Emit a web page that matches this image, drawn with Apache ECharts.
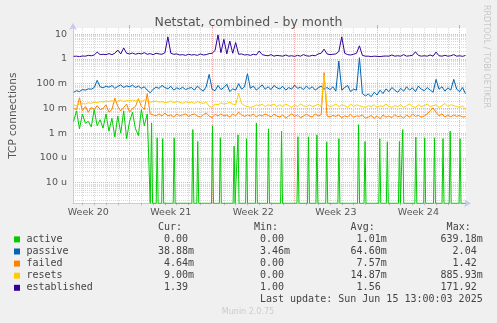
<!DOCTYPE html>
<html>
<head>
<meta charset="utf-8">
<script src="https://cdn.jsdelivr.net/npm/echarts@6/dist/echarts.min.js"></script>
<style>
html,body{margin:0;padding:0;background:#f0f0f0;}
#chart{width:497px;height:323px;}
</style>
</head>
<body>
<div id="chart"></div>
<script>
// ---- Data (time axis in days since Sun 2025-05-11 00:00) ----
var sampleStartDay = 2.25;   // first 6-hour sample
var sampleStepDay = 0.25;    // 6 hours
var axisStartDay = 2.2;
var axisEndDay = 35.54;      // Sun Jun 15 13:00

var weekCenters = [3.5, 10.5, 17.5, 24.5, 31.5];
var weekLabels = ['Week 20', 'Week 21', 'Week 22', 'Week 23', 'Week 24'];
var weekBoundaries = [7, 14, 21, 28, 35];

var yTickValues = [1e-5, 1e-4, 1e-3, 1e-2, 1e-1, 1, 10];
var yTickLabels = ['10 u', '100 u', '1 m', '10 m', '100 m', '1', '10'];

// values in milli-units unless stated
var activeEarly = [3, 8, 1.5, 6, 2.5, 3, 1.8, 9, 2, 3.5,
  1.6, 6, 1.2, 4, 0.7, 5, 1, 8, 0.6, 3,
  7, 1.5, 0.8, 9, 2, 6];
var activeSpikeDays = [8.867, 9.342, 9.808, 10.783, 12.367, 12.783, 14.033, 14.7, 15.867, 16.2,
  16.925, 17.758, 18.783, 19.892, 21.283, 22.175, 22.892, 23.725, 24.758, 26.425,
  26.975, 28.225, 28.867, 29.892, 30.175, 31.283, 32.033, 32.867, 33.592, 34.2, 35.033];
var activeSpikeValues = [2.6, 0.65, 0.6, 0.65, 1.4, 0.46, 2.0, 0.65, 0.3, 0.85,
  0.6, 2.6, 1.5, 1.2, 0.72, 0.71, 0.85, 0.45, 0.6, 2.2,
  0.46, 0.6, 0.45, 0.46, 1.4, 0.7, 0.65, 0.65, 0.6, 1.2, 0.6];

var passive = [45,52,48,58,55,62,60,70,137,75,
  68,80,72,85,65,78,90,70,82,75,
  88,70,80,65,75,55,43,60,72,65,
  85,70,62,78,55,68,60,72,58,65,
  70,55,80,62,50,75,238,60,52,85,
  58,70,95,48,62,55,100,60,75,254,
  65,80,55,70,90,60,75,58,85,68,
  62,78,55,70,60,88,65,72,58,80,
  62,75,55,68,80,60,70,58,75,50,
  830,55,70,85,48,60,55,1130,40,32,
  38,30,45,35,55,40,62,48,70,55,
  45,65,50,75,55,68,48,80,60,52,
  70,55,45,150,60,75,50,68,55,150,
  60,48,70,38.88];

var failed = [10,9,27,8,12,7,11,9,13,9,
  10,14,7,9,26,12,8,11,15,7,
  10,12,25,12,9,40,6,5.5,5,6,
  5,6.5,5,5.5,4.5,6,5,5.5,6,4.8,
  5.5,6,5,4.5,5.5,6.5,5,4.2,5.8,5,
  6,5,5.5,4.5,6,5,7,5.5,4.8,5.5,
  5,6,4.5,5.5,5,6,5.2,4.6,5.8,5,
  4.5,5.5,4,5,6,4.8,5.5,4.2,5,5.8,
  5,4.5,6,5,5.5,280,5,4.5,5.2,4.8,
  5.5,4.2,5,4.6,5.8,4.4,5,4.8,5.5,4,
  4.5,5.2,4,5,3.8,5.5,4.4,5,4.2,5.6,
  4.6,5,4,5.5,4.4,6,4.8,5.2,4.4,5,
  6,8,10.5,7,5,6,4.5,5.4,4.6,5.5,
  4.8,5.2,4.5,4.64];

var resets = [14,13,15,16,15,17,16,18,17,19,
  18,20,19,21,18,20,22,19,21,20,
  22,20,21,19,22,20,18,19,20,18,
  19,17,18,20,17,19,18,16,19,17,
  18,16,19,17,16,18,12,11,15,14,
  17,15,16,18,15,14,40,16,13,12,
  11,12,14,13,15,12,14,13,15,12,
  14,12,15,13,11,14,12,15,13,12,
  14,12,13,15,12,220,14,12,13,15,
  12,14,13,11,15,12,14,13,12,11,
  13,12,14,11,13,12,15,12,11,13,
  12,14,11,13,15,12,11,14,12,13,
  15,12,13,14,11,13,16,12,14,13,
  12,11,13,9];

// established in units
var established = [1.28,1.3,1.25,1.32,1.3,1.4,1.35,1.45,1.9,1.5,
  1.55,1.5,1.65,1.5,1.7,2.3,1.6,2.8,1.7,1.6,
  1.75,1.55,1.7,1.6,1.8,1.55,1.65,1.5,1.7,1.6,
  1.55,1.8,7.8,1.7,1.55,1.6,1.45,1.5,1.4,1.55,
  1.45,1.5,1.4,1.6,1.45,1.5,1.65,1.7,2.2,9.4,
  1.8,6.2,1.6,5.3,1.7,4.6,1.55,1.6,1.45,1.5,
  1.4,1.55,1.45,2.1,1.5,1.4,1.35,1.5,1.3,1.4,
  1.35,1.3,1.45,1.3,1.35,1.28,1.4,1.3,1.5,1.35,
  1.3,1.4,1.35,1.6,1.7,2.5,1.6,1.5,1.55,1.6,
  2.0,7.8,1.7,1.5,1.45,1.55,1.7,3.4,1.4,1.3,
  1.3,1.25,1.3,1.28,1.25,1.3,1.32,1.3,1.45,1.3,
  1.35,1.3,1.5,1.3,1.35,1.4,1.95,1.4,1.3,1.35,
  1.3,1.45,1.3,1.9,1.35,1.3,1.4,1.3,1.35,1.5,
  1.3,1.35,1.28,1.39];

var legendNames = ['active', 'passive', 'failed', 'resets', 'established'];
var statCur = ['0.00', '38.88m', '4.64m', '9.00m', '1.39'];
var statMin = ['0.00', '3.46m', '0.00', '0.00', '1.00'];
var statAvg = ['1.01m', '64.60m', '7.57m', '14.87m', '1.56'];
var statMax = ['639.18m', '2.04', '1.42', '885.93m', '171.92'];
var lastUpdate = 'Last update: Sun Jun 15 13:00:03 2025';

// ---- Build ----
var colors = ['#00cc00', '#0066b3', '#ff8000', '#ffcc00', '#330099'];
var yMinV = 1.46e-6, yMaxV = 17.9;

function sampleDay(i) { return sampleStartDay + sampleStepDay * i; }
function toPairs(arr, scale) {
  return arr.map(function (v, i) { return [sampleDay(i), Math.max(v * scale, yMinV)]; });
}
var activeData = activeEarly.map(function (v, i) { return [sampleDay(i), v * 1e-3]; });
activeData.push([sampleDay(activeEarly.length), yMinV]);
activeSpikeDays.forEach(function (d, k) {
  activeData.push([d - 1 / 12, yMinV]);
  activeData.push([d, activeSpikeValues[k] * 1e-3]);
  activeData.push([d + 1 / 12, yMinV]);
});
activeData.push([sampleDay(passive.length - 1), yMinV]);

var seriesData = [activeData, toPairs(passive, 1e-3), toPairs(failed, 1e-3), toPairs(resets, 1e-3), toPairs(established, 1)];

var dayTicks = [];
for (var d = 3; d <= 35; d++) { if (d % 7 !== 0) dayTicks.push(d); }
var yMinor = [];
for (var e = -6; e <= 1; e++) {
  for (var m = 2; m <= 9; m++) {
    var v = m * Math.pow(10, e);
    if (v > yMinV && v < yMaxV) yMinor.push(v);
  }
}

var FONT = 'DejaVu Sans';
var MONO = 'DejaVu Sans Mono';
var RED = '#f2b0b0';

var graphic = [];
// right side credit
graphic.push({ type: 'text', x: 486, y: 5, rotation: -Math.PI / 2,
  style: { text: 'RRDTOOL / TOBI OETIKER', fill: '#c8c8c8', font: '8px ' + FONT, textAlign: 'left', textVerticalAlign: 'middle' } });
// legend headers
var colRight = [194, 290, 386.7, 482.7];
var headers = ['Cur:', 'Min:', 'Avg:', 'Max:'];
headers.forEach(function (h, c) {
  graphic.push({ type: 'text', x: colRight[c] - 12, y: 227.7,
    style: { text: h, fill: '#444', font: '10px ' + MONO, textAlign: 'right', textVerticalAlign: 'middle' } });
});
function pad(s) { return /[0-9]$/.test(s) ? s + ' ' : s; }
legendNames.forEach(function (name, r) {
  var y = 239.4 + r * 12.1;
  graphic.push({ type: 'rect', shape: { x: 14, y: y - 3, width: 6, height: 6 }, style: { fill: colors[r] } });
  graphic.push({ type: 'text', x: 26.5, y: y,
    style: { text: name, fill: '#444', font: '10px ' + MONO, textAlign: 'left', textVerticalAlign: 'middle' } });
  [statCur, statMin, statAvg, statMax].forEach(function (col, c) {
    graphic.push({ type: 'text', x: colRight[c], y: y,
      style: { text: pad(col[r]), fill: '#444', font: '10px ' + MONO, textAlign: 'right', textVerticalAlign: 'middle' } });
  });
});
graphic.push({ type: 'text', x: 482.7, y: 299.5,
  style: { text: lastUpdate, fill: '#444', font: '10px ' + MONO, textAlign: 'right', textVerticalAlign: 'middle' } });
graphic.push({ type: 'text', x: 248, y: 312,
  style: { text: 'Munin 2.0.75', fill: '#cccccc', font: '8px ' + FONT, textAlign: 'center', textVerticalAlign: 'middle' } });

var option = {
  backgroundColor: '#f0f0f0',
  animation: false,
  title: {
    text: 'Netstat, combined - by month', left: 'center', top: 11,
    textStyle: { fontFamily: FONT, fontSize: 12.5, fontWeight: 'normal', color: '#555' }
  },
  grid: { left: 66, top: 28, width: 400, height: 175.3, show: true, backgroundColor: '#ffffff', borderWidth: 0 },
  xAxis: [{
    type: 'value', min: axisStartDay, max: axisEndDay,
    axisLine: { show: true, lineStyle: { color: '#c8c8f0', width: 1 }, symbol: ['none', 'arrow'], symbolSize: [6, 7], symbolOffset: [0, 5] },
    axisTick: { show: true, customValues: dayTicks, length: 2, lineStyle: { color: '#bbbbbb' } },
    splitLine: { show: true, lineStyle: { color: '#d9d9d9', type: 'dotted', width: 1 } },
    axisLabel: {
      customValues: weekCenters, margin: 4, color: '#555', fontFamily: FONT, fontSize: 9.5,
      formatter: function (val) {
        for (var i = 0; i < weekCenters.length; i++) { if (Math.abs(weekCenters[i] - val) < 0.01) return weekLabels[i]; }
        return '';
      }
    }
  }, {
    type: 'value', min: axisStartDay, max: axisEndDay,
    axisLine: { show: false },
    axisTick: { show: true, customValues: weekBoundaries, length: 3, lineStyle: { color: '#e8a0a0' } },
    splitLine: { show: true, lineStyle: { color: RED, type: 'dotted', width: 1 } },
    axisLabel: { show: false }
  }],
  yAxis: [{
    type: 'log', logBase: 10, min: yMinV, max: yMaxV,
    name: 'TCP connections', nameLocation: 'middle', nameGap: 54,
    nameTextStyle: { fontFamily: FONT, fontSize: 10.5, color: '#555' },
    axisLine: { show: true, lineStyle: { color: '#c8c8f0', width: 1 }, symbol: ['none', 'arrow'], symbolSize: [6, 7], symbolOffset: [0, 5] },
    axisTick: { show: false, customValues: yTickValues },
    splitLine: { show: true, lineStyle: { color: RED, type: 'dotted', width: 1 } },
    axisLabel: {
      customValues: yTickValues, margin: 6, color: '#555', fontFamily: FONT, fontSize: 9.5,
      formatter: function (val) {
        var e = Math.round(Math.log10(val));
        for (var i = 0; i < yTickValues.length; i++) { if (Math.round(Math.log10(yTickValues[i])) === e) return yTickLabels[i]; }
        return '';
      }
    }
  }, {
    type: 'log', logBase: 10, min: yMinV, max: yMaxV,
    axisLine: { show: false },
    axisTick: { show: false, customValues: yMinor },
    splitLine: { show: true, lineStyle: { color: '#d9d9d9', type: 'dotted', width: 1 } },
    axisLabel: { show: false }
  }],
  series: seriesData.map(function (data, k) {
    return {
      type: 'line', name: legendNames[k], xAxisIndex: 0, yAxisIndex: 0,
      data: data, showSymbol: false, symbol: 'none', clip: true, silent: true,
      lineStyle: { color: colors[k], width: 1 }, itemStyle: { color: colors[k] }
    };
  }),
  graphic: graphic
};

var chart = echarts.init(document.getElementById('chart'), null, { renderer: 'canvas' });
chart.setOption(option);
</script>
</body>
</html>
